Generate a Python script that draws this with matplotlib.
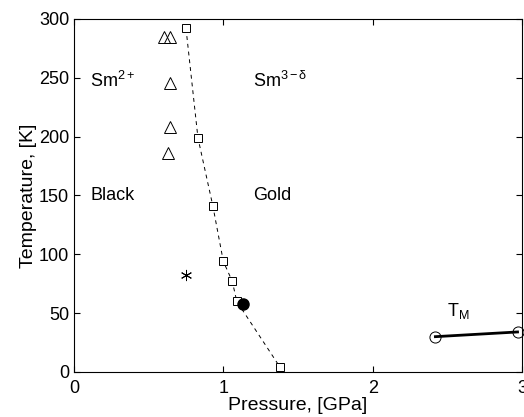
import matplotlib
matplotlib.use("Agg")
import matplotlib.pyplot as plt

plt.rcParams['font.family'] = ['Liberation Sans', 'DejaVu Sans']
plt.rcParams['mathtext.fontset'] = 'custom'
plt.rcParams['mathtext.rm'] = 'Liberation Sans'
plt.rcParams['mathtext.it'] = 'Liberation Sans'

# boundary squares (dashed line)
sq_p = [0.75, 0.83, 0.93, 1.00, 1.06, 1.09, 1.38]
sq_t = [292, 199, 141, 94, 77, 60, 4]

# triangles
tri_p = [0.60, 0.64, 0.64, 0.64, 0.63]
tri_t = [285, 285, 246, 208, 186]

# star
star_p = [0.75]
star_t = [82]

# filled circle
dot_p = [1.13]
dot_t = [58]

# T_M line
tm_p = [2.42, 2.97]
tm_t = [30, 34]

fig = plt.figure(figsize=(5.24, 4.17), dpi=100)
ax = fig.add_axes([0.1412, 0.108, 0.855, 0.8465])

ax.plot(sq_p, sq_t, linestyle=(0, (4, 4)), color="k", linewidth=0.7, marker="s",
        markerfacecolor="white", markeredgecolor="k", markersize=5.5, markeredgewidth=0.7)
ax.plot(tri_p, tri_t, linestyle="none", marker="^", markerfacecolor="none",
        markeredgecolor="k", markersize=9, markeredgewidth=0.7)
ax.plot(star_p, star_t, linestyle="none", marker=(6, 2, 0), color="k",
        markersize=8, markeredgewidth=0.7)
ax.plot(dot_p, dot_t, linestyle="none", marker="o", color="k", markersize=8)
ax.plot(tm_p, tm_t, color="k", linewidth=2, marker="o", markerfacecolor="none",
        markeredgecolor="k", markersize=8, markeredgewidth=0.7, clip_on=False)

ax.text(0.11, 247, r"Sm$^{2+}$", fontsize=13, va="center")
ax.text(1.2, 247, r"Sm$^{3-\delta}$", fontsize=13, va="center")
ax.text(0.11, 150, "Black", fontsize=13, va="center")
ax.text(1.2, 150, "Gold", fontsize=13, va="center")
ax.text(2.5, 52, r"T$_{\mathrm{M}}$", fontsize=13, va="center")

ax.set_xlim(0, 3)
ax.set_ylim(0, 300)
ax.set_xticks([0, 1, 2, 3])
ax.set_yticks([0, 50, 100, 150, 200, 250, 300])
ax.tick_params(direction="in", top=True, right=True, labelsize=13, length=4)
ax.tick_params(axis="x", pad=6)
ax.set_xlabel("Pressure, [GPa]", fontsize=14, labelpad=0)
ax.set_ylabel("Temperature, [K]", fontsize=14, labelpad=1)

fig.savefig("out.png", dpi=100)
